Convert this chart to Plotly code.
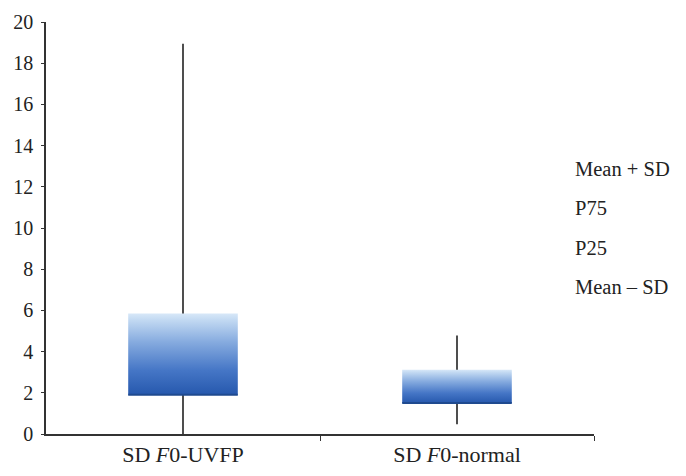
import plotly.graph_objects as go

categories = ["SD <i>F</i>0-UVFP", "SD <i>F</i>0-normal"]
mean_plus_sd = [18.95, 4.78]
p75 = [5.85, 3.12]
p25 = [1.9, 1.5]
mean_minus_sd = [0.0, 0.47]
legend_labels = ["Mean + SD", "P75", "P25", "Mean \u2013 SD"]

FONT = "Liberation Serif"
AX = "#333333"
TXT = "#222222"
BOX_HALF = 0.2

fig = go.Figure()
xs = list(range(len(categories)))

# whiskers
for i in xs:
    fig.add_trace(go.Scatter(
        x=[i, i], y=[mean_minus_sd[i], mean_plus_sd[i]], mode="lines",
        line=dict(color="#222222", width=1.6), showlegend=False, hoverinfo="skip"))

# boxes with vertical gradient
for i in xs:
    fig.add_trace(go.Scatter(
        x=[i - BOX_HALF, i + BOX_HALF, i + BOX_HALF, i - BOX_HALF, i - BOX_HALF],
        y=[p25[i], p25[i], p75[i], p75[i], p25[i]],
        mode="lines", fill="toself", line=dict(width=0),
        fillgradient=dict(type="vertical", start=p25[i], stop=p75[i],
                          colorscale=[[0, "#2658ad"], [0.3, "#4576c6"],
                                      [0.65, "#86abdf"], [0.92, "#c2d9f2"],
                                      [1, "#d8e8f8"]]),
        showlegend=False, hoverinfo="skip"))
    fig.add_trace(go.Scatter(
        x=[i - BOX_HALF, i + BOX_HALF], y=[p25[i], p25[i]], mode="lines",
        line=dict(color="#1f4a8f", width=2), showlegend=False, hoverinfo="skip"))

for k, lab in enumerate(legend_labels):
    fig.add_annotation(text=lab, xref="paper", yref="paper", x=1.0, xanchor="left",
                       xshift=-21, y=1 - (146.5 + 39.5 * k) / 412, yanchor="middle",
                       showarrow=False, font=dict(family=FONT, size=20.5, color=TXT))

fig.update_layout(
    width=686, height=476, margin=dict(l=46, r=92, t=22, b=42),
    plot_bgcolor="white", paper_bgcolor="white", showlegend=False,
    font=dict(family=FONT, size=20, color=TXT),
    xaxis=dict(range=[-0.5, 1.5], tickvals=xs, ticktext=categories, ticks="",
               showline=True, linecolor=AX, linewidth=1.6, showgrid=False, zeroline=False,
               automargin=False,
               minor=dict(tickvals=[0.5, 1.5], ticks="outside", ticklen=5,
                          tickcolor=AX, tickwidth=1.2, showgrid=False),
               tickfont=dict(family=FONT, size=22, color=TXT)),
    yaxis=dict(range=[0, 20], dtick=2, ticks="outside", ticklen=3, tickcolor=AX,
               tickwidth=1.2, showline=True, linecolor=AX, linewidth=1.6,
               showgrid=False, zeroline=False, automargin=False, ticklabelstandoff=4,
               tickfont=dict(family=FONT, size=20, color=TXT)),
)

fig.write_html("out.html", config={"displayModeBar": False},
               post_script="document.body.style.margin='0';")
